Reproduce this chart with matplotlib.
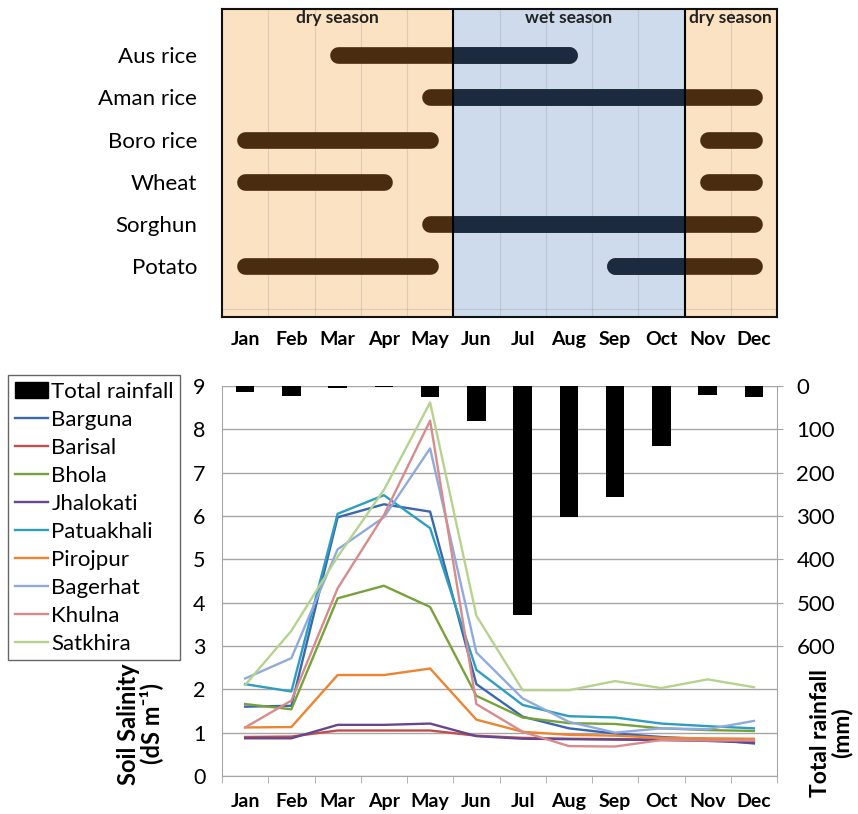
import numpy as np
import matplotlib
matplotlib.use("Agg")
import matplotlib.pyplot as plt
from matplotlib.lines import Line2D
from matplotlib.patches import Patch, Rectangle

plt.rcParams['font.family'] = ['Lato', 'DejaVu Sans']

months = ["Jan", "Feb", "Mar", "Apr", "May", "Jun",
          "Jul", "Aug", "Sep", "Oct", "Nov", "Dec"]

# crop calendar: (first month index, last month index)
crops = ["Aus rice", "Aman rice", "Boro rice", "Wheat", "Sorghun", "Potato"]
crop_periods = [
    [(2, 7)],
    [(4, 11)],
    [(0, 4), (10, 11)],
    [(0, 3), (10, 11)],
    [(4, 11)],
    [(0, 4), (8, 11)],
]
seasons = ["dry season", "wet season", "dry season"]
season_edges = [(-0.5, 4.5), (4.5, 9.5), (9.5, 11.5)]

rainfall = [14, 22, 5, 2, 26, 80, 529, 302, 256, 138, 21, 25]

districts = ["Barguna", "Barisal", "Bhola", "Jhalokati", "Patuakhali",
             "Pirojpur", "Bagerhat", "Khulna", "Satkhira"]
salinity = [
    [1.60, 1.62, 5.97, 6.27, 6.10, 2.12, 1.37, 1.10, 0.98, 0.90, 0.85, 0.75],
    [0.90, 0.91, 1.05, 1.05, 1.05, 0.93, 0.88, 0.86, 0.85, 0.84, 0.83, 0.82],
    [1.66, 1.54, 4.10, 4.39, 3.90, 1.85, 1.35, 1.22, 1.20, 1.10, 1.06, 1.04],
    [0.87, 0.87, 1.18, 1.18, 1.21, 0.92, 0.86, 0.85, 0.84, 0.83, 0.81, 0.77],
    [2.12, 1.95, 6.05, 6.48, 5.72, 2.45, 1.64, 1.38, 1.35, 1.21, 1.15, 1.10],
    [1.12, 1.13, 2.33, 2.33, 2.48, 1.30, 1.02, 0.95, 0.93, 0.88, 0.87, 0.86],
    [2.25, 2.72, 5.23, 5.97, 7.56, 2.85, 1.79, 1.25, 1.00, 1.10, 1.08, 1.27],
    [1.12, 1.74, 4.33, 6.02, 8.20, 1.66, 1.02, 0.69, 0.68, 0.83, 0.82, 0.82],
    [2.10, 3.35, 5.06, 6.60, 8.62, 3.70, 1.98, 1.98, 2.19, 2.03, 2.23, 2.05],
]
colors = ["#3A67AE", "#C0504D", "#77A23B", "#65478F", "#2E9DC0",
          "#EE8432", "#8FAADC", "#D98B8B", "#B6D38E"]

x = np.arange(len(months))

fig = plt.figure(figsize=(8.58, 8.14), dpi=100)

# ---------- top: crop calendar ----------
ax = fig.add_axes([222/858, 1-317/814, 555/858, 308/814])
dry_col = "#FBE2C3"
wet_col = "#CDDBEC"
for (a, b), s in zip(season_edges, seasons):
    ax.axvspan(a, b, color=wet_col if s.startswith("wet") else dry_col, zorder=0)
    ax.text((a+b)/2, 0.97, s, transform=ax.get_xaxis_transform(), ha='center',
            va='center', fontsize=12.5, fontweight='bold', color='#222222')
for b in np.arange(0.5, 11, 1):
    ax.axvline(b, color='#888888', alpha=0.25, lw=0.8, zorder=1)
ax.axhline(6.0, color='#888888', alpha=0.25, lw=0.8, zorder=1)
for b in [4.5, 9.5]:
    ax.axvline(b, color='black', lw=1.5, zorder=3)

wet_a, wet_b = season_edges[1]
for i, periods in enumerate(crop_periods):
    for (s, e) in periods:
        ax.plot([s, e], [i, i], color='#4A2C10', lw=12, solid_capstyle='round', zorder=2)
        navy, = ax.plot([s, e], [i, i], color='#1C2A3F', lw=12,
                        solid_capstyle='round', zorder=2)
        clip = Rectangle((wet_a, -5), wet_b - wet_a, 20, transform=ax.transData)
        navy.set_clip_path(clip)

ax.set_xlim(-0.5, 11.5)
ax.set_ylim(6.2, -1.09)
ax.set_yticks(range(len(crops)))
ax.set_yticklabels(crops, fontsize=16)
ax.set_xticks(x)
ax.set_xticklabels(months, fontsize=14, fontweight='bold')
ax.tick_params(length=0, pad=10)
ax.tick_params(axis='y', pad=18)
for sp in ax.spines.values():
    sp.set_linewidth(1.5)
    sp.set_color('#111111')
    sp.set_zorder(4)

# ---------- bottom: salinity and rainfall ----------
ax1 = fig.add_axes([222/858, 1-776/814, 555/858, 390/814])
for name, vals, c in zip(districts, salinity, colors):
    ax1.plot(x, vals, color=c, lw=1.7, label=name, zorder=3)
ax1.set_ylim(0, 9)
ax1.set_xlim(-0.5, 11.5)
ax1.set_yticks(range(10))
ax1.tick_params(axis='y', labelsize=15.5, length=0, pad=12)
ax1.set_xticks(x)
ax1.set_xticklabels(months, fontsize=14, fontweight='bold')
ax1.set_xticks(np.arange(-0.5, 12, 1), minor=True)
ax1.tick_params(axis='x', which='major', length=0, pad=12)
ax1.tick_params(axis='x', which='minor', length=5, color='#A6A6A6')
ax1.grid(axis='y', color='#A6A6A6', lw=1)
ax1.set_axisbelow(True)
ax1.spines['top'].set_visible(False)
ax1.spines['right'].set_visible(False)
for sp in ['left', 'bottom']:
    ax1.spines[sp].set_color('#A6A6A6')

ax2 = ax1.twinx()
ax2.bar(x, rainfall, width=0.4, color='black', zorder=2)
ax2.set_ylim(900, 0)
ax2.set_yticks(range(0, 700, 100))
ax2.tick_params(axis='y', labelsize=16, length=4, color='#A6A6A6', pad=10)
ax2.spines['top'].set_visible(False)
ax2.spines['left'].set_visible(False)
ax2.spines['bottom'].set_visible(False)
ax2.spines['right'].set_color('#A6A6A6')

fig.text(140/858, 1-724/814, "Soil Salinity\n(dS m⁻¹)", rotation=90,
         ha='center', va='center', multialignment='center',
         fontsize=17, fontweight='bold', linespacing=1.0)
fig.text(831/858, 1-733/814, "Total rainfall\n(mm)", rotation=90,
         ha='center', va='center', multialignment='center',
         fontsize=16.5, fontweight='bold', linespacing=1.0)

handles = [Patch(color='black', label="Total rainfall")]
handles += [Line2D([0], [0], color=c, lw=1.7, label=n) for n, c in zip(districts, colors)]
leg = fig.legend(handles=handles, loc='upper left',
                 bbox_to_anchor=(8/858, 1-375/814), fontsize=16,
                 frameon=True, fancybox=False, edgecolor='#404040',
                 handlelength=1.5, handletextpad=0.15, labelspacing=0.36,
                 borderpad=0.3, borderaxespad=0)
leg.get_frame().set_linewidth(1.0)

fig.savefig("out.png", dpi=100)
